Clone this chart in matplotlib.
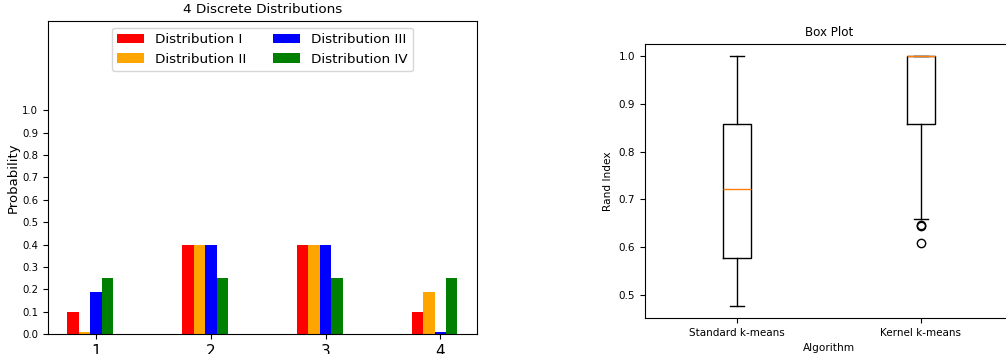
import matplotlib
matplotlib.use("Agg")
import matplotlib.pyplot as plt
import numpy as np

# ---- Data ----
categories = [1, 2, 3, 4]
dist_labels = ["Distribution I", "Distribution II", "Distribution III", "Distribution IV"]
dist_I = [0.10, 0.40, 0.40, 0.10]
dist_II = [0.01, 0.40, 0.40, 0.19]
dist_III = [0.19, 0.40, 0.40, 0.01]
dist_IV = [0.25, 0.25, 0.25, 0.25]
dist_colors = ["red", "orange", "blue", "green"]

algorithms = ["Standard k-means", "Kernel k-means"]
whislo = [0.477, 0.658]
q1 = [0.577, 0.859]
med = [0.721, 1.000]
q3 = [0.859, 1.000]
whishi = [1.000, 1.000]
fliers = [[], [0.644, 0.647, 0.608]]

fig = plt.figure(figsize=(10.06, 3.54), dpi=100)

# ---- Left: bar chart ----
ax1 = fig.add_axes([0.0477, 0.0565, 0.4264, 0.8842])
x = np.array(categories, dtype=float)
width = 0.1
offsets = [-0.2, -0.1, 0.0, 0.1]
for vals, lab, col, off in zip([dist_I, dist_II, dist_III, dist_IV], dist_labels, dist_colors, offsets):
    ax1.bar(x + off, vals, width=width, color=col, label=lab)
ax1.set_ylim(0, 1.4)
yt = np.round(np.arange(0, 1.01, 0.1), 1)
ax1.set_yticks(yt)
ax1.set_yticklabels([f"{v:.1f}" for v in yt], fontsize=7.3)
ax1.set_xticks(categories)
ax1.set_xticklabels([str(c) for c in categories], fontsize=11)
ax1.set_ylabel("Probability", fontsize=9.5, labelpad=2)
ax1.set_title("4 Discrete Distributions", fontsize=9.7)
ax1.legend(loc="upper center", ncol=2, fontsize=9.7)

# ---- Right: box plot ----
ax2 = fig.add_axes([0.641, 0.1017, 0.366, 0.774])
stats = []
for i, name in enumerate(algorithms):
    stats.append(dict(label=name, whislo=whislo[i], q1=q1[i], med=med[i],
                      q3=q3[i], whishi=whishi[i], fliers=fliers[i]))
ax2.bxp(stats, positions=[1, 2])
ax2.set_title("Box Plot", fontsize=8.6)
ax2.set_xlabel("Algorithm", fontsize=7.6)
ax2.set_ylabel("Rand Index", fontsize=7.6)
ax2.tick_params(labelsize=7.5)

fig.savefig("out.png", dpi=100)
